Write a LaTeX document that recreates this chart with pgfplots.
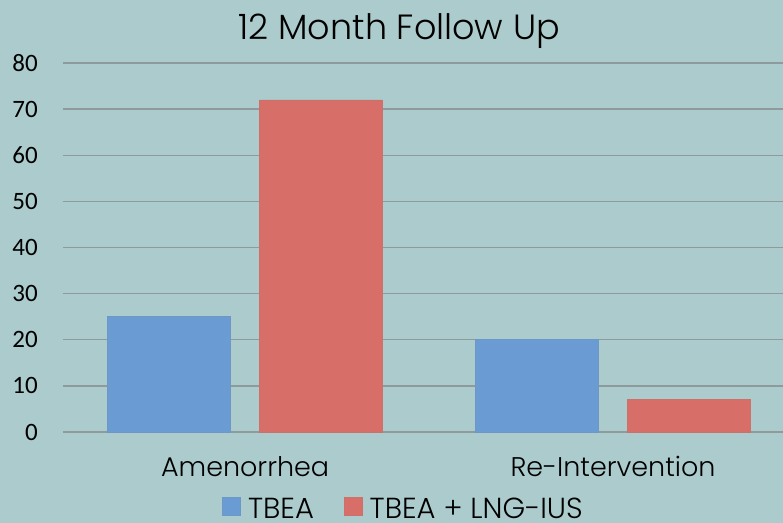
\documentclass[border=0pt]{standalone}
\usepackage{pgfplots}
\pgfplotsset{compat=1.18}
\usepackage{fontspec}
\setmainfont{Poppins}[UprightFont=* Light]
\newfontfamily\carlito{Carlito}
\definecolor{bg}{HTML}{ABCBCD}
\definecolor{gridc}{HTML}{8E9A9B}
\definecolor{cblue}{HTML}{6A9CD3}
\definecolor{cred}{HTML}{D76E68}
\begin{document}
\begin{tikzpicture}
\fill[bg] (-63bp,-91bp) rectangle (720bp,432bp);
\begin{axis}[
  scale only axis, width=720bp, height=369bp,
  xmin=-0.495, xmax=1.462, ymin=0, ymax=80,
  ytick={0,10,...,80},
  xtick={0,1}, xticklabels={Amenorrhea, Re-Intervention},
  axis line style={draw=none}, major tick style={draw=none},
  ymajorgrids, grid style={color=gridc, line width=1.3bp},
  /pgf/number format/assume math mode=true,
  yticklabel style={font=\carlito\fontsize{25bp}{25bp}\selectfont, inner sep=0pt, xshift=-25bp},
  xticklabel style={font=\fontsize{27bp}{30bp}\selectfont, inner sep=0pt, yshift=-24bp},
  title={12 Month Follow Up},
  title style={font=\fontsize{35bp}{40bp}\selectfont, at={(0.467,1)}, anchor=base, inner sep=0pt, yshift=17.5bp},
  bar width=0.334,
  legend columns=2,
  legend style={draw=none, fill=none, inner sep=0pt, at={(0.4715,-0.2385)}, anchor=south,
    font=\fontsize{29bp}{30bp}\selectfont, nodes={inner sep=0pt}, column sep=7bp,
    /tikz/every even column/.append style={column sep=30bp}},
  legend image code/.code={\fill[#1] (0bp,-7bp) rectangle (18bp,11bp);},
]
\addplot[ybar, bar shift=-0.206, fill=cblue, draw=cblue!85!gray, line width=0.8bp] coordinates {(0,25) (1,20)};
\addplot[ybar, bar shift=0.206, fill=cred, draw=cred!85!gray, line width=0.8bp] coordinates {(0,72) (1,7)};
\legend{TBEA, TBEA + LNG-IUS}
\end{axis}
\pgfresetboundingbox
\useasboundingbox (-63bp,-91bp) rectangle (720bp,432bp);
\end{tikzpicture}
\end{document}
